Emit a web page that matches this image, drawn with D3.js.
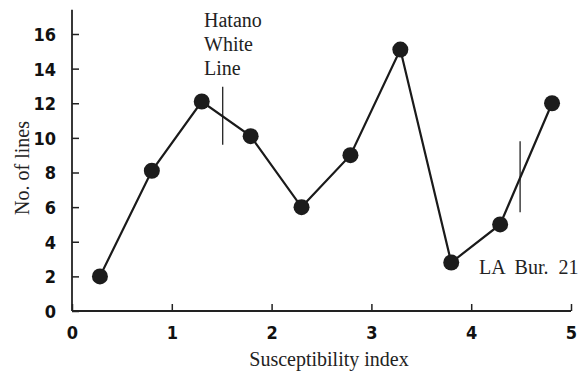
<!DOCTYPE html>
<html>
<head>
<meta charset="utf-8">
<script src="https://cdn.jsdelivr.net/npm/d3@7"></script>
<style>
  body { margin: 0; background: #fff; }
  svg { display: block; }
  .tick-label { font-family: "DejaVu Sans Condensed", "Liberation Sans Narrow", sans-serif; font-stretch: condensed; font-weight: bold; font-size: 18px; fill: #111; }
  .serif { font-family: "Liberation Serif", "DejaVu Serif", serif; font-size: 20px; fill: #222; }
</style>
</head>
<body>
<svg id="chart" width="581" height="374"></svg>
<script>
// susceptibility index vs number of lines
var xValues = [0.28, 0.8, 1.3, 1.79, 2.3, 2.79, 3.29, 3.8, 4.29, 4.81];
var yValues = [2.0, 8.1, 12.1, 10.1, 6.0, 9.0, 15.1, 2.8, 5.0, 12.0];
var xTicks = [0, 1, 2, 3, 4, 5];
var yTicks = [0, 2, 4, 6, 8, 10, 12, 14, 16];
// reference lines: [x, yBottom, yTop]
var markers = [[1.51, 9.6, 12.95], [4.49, 5.7, 9.8]];

var svg = d3.select('#chart');
var x = d3.scaleLinear().domain([0, 5]).range([72, 571]);
var y = d3.scaleLinear().domain([0, 16]).range([311, 34]);

// axes
var yAxis = d3.axisLeft(y).tickValues(yTicks).tickFormat(d3.format('d'))
  .tickSizeInner(-7).tickSizeOuter(0).tickPadding(16);
var xAxis = d3.axisBottom(x).tickValues(xTicks).tickFormat(d3.format('d'))
  .tickSizeInner(-7).tickSizeOuter(0).tickPadding(14);

var gy = svg.append('g').attr('transform', 'translate(72,0)').call(yAxis);
var gx = svg.append('g').attr('transform', 'translate(0,311)').call(xAxis);
[gx, gy].forEach(function(g) {
  g.select('.domain').remove();
  g.selectAll('.tick line').attr('stroke', '#222').attr('stroke-width', 1.5);
  g.selectAll('.tick text').attr('class', 'tick-label');
});
gy.selectAll('.tick text').attr('dy', '0.36em');
gx.selectAll('.tick text').attr('dy', '0.75em');

svg.append('line').attr('x1', 72).attr('x2', 72).attr('y1', y(17.4)).attr('y2', 311)
  .attr('stroke', '#222').attr('stroke-width', 1.8);
svg.append('line').attr('x1', 72).attr('x2', x(5)).attr('y1', 311).attr('y2', 311)
  .attr('stroke', '#222').attr('stroke-width', 1.8);

// markers
svg.selectAll('line.marker').data(markers).enter().append('line')
  .attr('class', 'marker')
  .attr('x1', function(d) { return x(d[0]); })
  .attr('x2', function(d) { return x(d[0]); })
  .attr('y1', function(d) { return y(d[1]); })
  .attr('y2', function(d) { return y(d[2]); })
  .attr('stroke', '#222').attr('stroke-width', 1.3);

// line + points
var pts = xValues.map(function(v, i) { return [v, yValues[i]]; });
svg.append('path').datum(pts)
  .attr('fill', 'none').attr('stroke', '#1a1a1a').attr('stroke-width', 2.2)
  .attr('d', d3.line().x(function(d) { return x(d[0]); }).y(function(d) { return y(d[1]); }));

svg.selectAll('circle.pt').data(pts).enter().append('circle')
  .attr('class', 'pt')
  .attr('cx', function(d) { return x(d[0]); })
  .attr('cy', function(d) { return y(d[1]); })
  .attr('r', 8)
  .attr('fill', '#1c1c1c');

// labels
var hat = svg.append('text').attr('class', 'serif').attr('x', 204).attr('y', 27);
['Hatano', 'White', 'Line'].forEach(function(t, i) {
  hat.append('tspan').attr('x', 204).attr('dy', i ? 24 : 0).text(t);
});
svg.append('text').attr('class', 'serif').attr('x', 479).attr('y', 274)
  .attr('xml:space', 'preserve').text('LA  Bur.  21');

svg.append('text').attr('class', 'serif').attr('x', 329).attr('y', 366)
  .attr('text-anchor', 'middle').text('Susceptibility index');
svg.append('text').attr('class', 'serif')
  .attr('transform', 'translate(29,168) rotate(-90)')
  .attr('text-anchor', 'middle').text('No. of lines');
</script>
</body>
</html>
